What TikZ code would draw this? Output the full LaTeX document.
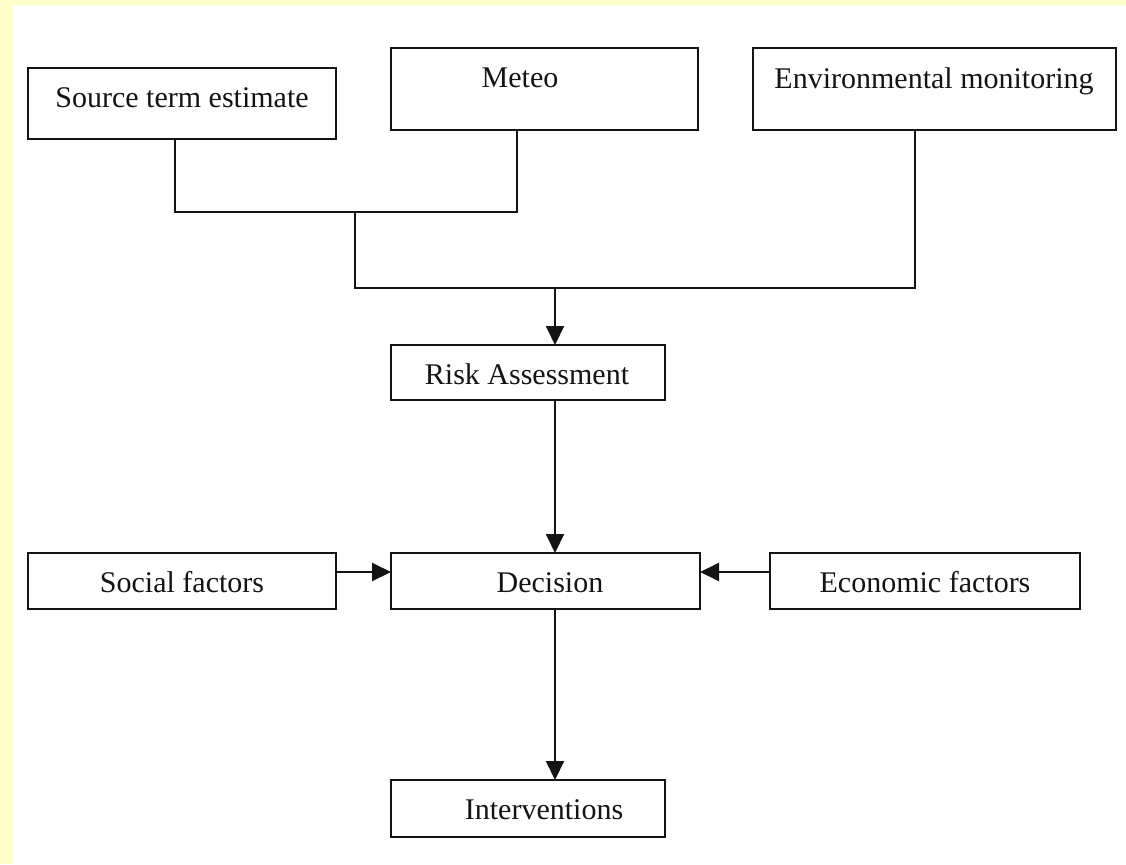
\documentclass[tikz,border=0pt]{standalone}
\usepackage{fontspec}
\setmainfont{Liberation Serif}
\usetikzlibrary{arrows.meta}
\definecolor{bgyellow}{RGB}{255,255,204}
\definecolor{ink}{RGB}{20,20,20}
\tikzset{
  box/.style={draw=ink, line width=2pt, rectangle, inner sep=0pt, outer sep=0pt},
  txt/.style={anchor=base, inner sep=0pt, font=\fontsize{30}{36}\selectfont, text=ink},
  link/.style={draw=ink, line width=2pt},
  flow/.style={link, -{Triangle[length=19pt,width=18pt]}}
}
\begin{document}
\begin{tikzpicture}[x=1pt,y=-1pt]
\fill[bgyellow] (0,0) rectangle (1126,864);
\fill[white] (13,5) rectangle (1126,864);
\useasboundingbox (0,0) rectangle (1126,864);
% boxes
\node[box, minimum width=308pt, minimum height=71pt] (src) at (182,103.5) {};
\node[box, minimum width=307pt, minimum height=82pt] (meteo) at (544.5,89) {};
\node[box, minimum width=363pt, minimum height=81pt] (env) at (934.5,89) {};
\node[box, minimum width=274pt, minimum height=55pt] (risk) at (528,372.5) {};
\node[box, minimum width=308pt, minimum height=56pt] (soc) at (182,581) {};
\node[box, minimum width=309pt, minimum height=56pt] (dec) at (545.5,581) {};
\node[box, minimum width=310pt, minimum height=56pt] (eco) at (925,581) {};
\node[box, minimum width=274pt, minimum height=57pt] (int) at (528,808.5) {};
% texts
\node[txt] (tsrc) at (182,107) {Source term estimate};
\node[txt] (tmeteo) at (520,88) {Meteo};
\node[txt] (tenv) at (934,89) {Environmental monitoring};
\node[txt] (trisk) at (527,384) {Risk Assessment};
\node[txt] (tsoc) at (182,592) {Social factors};
\node[txt] (tdec) at (550,592) {Decision};
\node[txt] (teco) at (925,592) {Economic factors};
\node[txt] (tint) at (544,819) {Interventions};
% junctions
\coordinate (j1) at (355,212);
\coordinate (j2) at (555,288);
% connectors
\draw[link] ([xshift=-7pt]src.south) |- (j1) -| ([xshift=-27.5pt]meteo.south);
\draw[link] (j1) |- (j2) -| ([xshift=-19.5pt]env.south);
\draw[flow] (j2) -- (j2 |- risk.north);
\draw[flow] (risk.south -| j2) -- (dec.north -| j2);
\draw[flow] (dec.south -| j2) -- (int.north -| j2);
\draw[flow] ([yshift=9pt]soc.east) -- ([yshift=9pt]dec.west);
\draw[flow] ([yshift=9pt]eco.west) -- ([yshift=9pt]dec.east);
\end{tikzpicture}
\end{document}
